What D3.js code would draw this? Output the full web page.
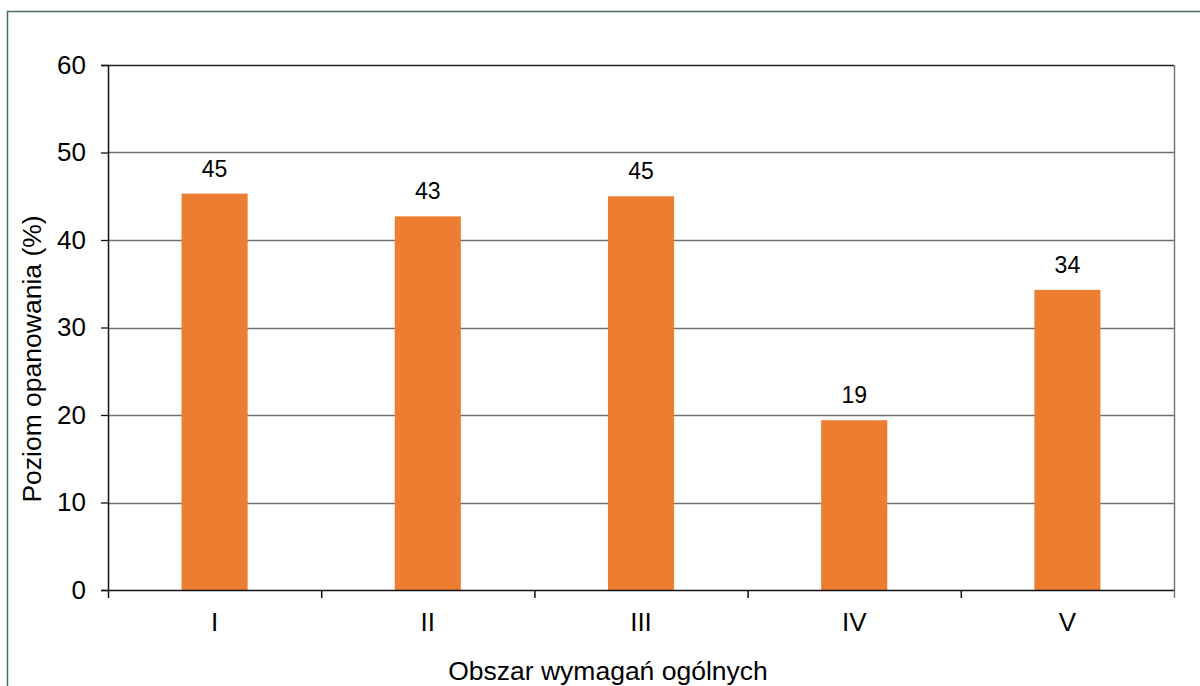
<!DOCTYPE html>
<html>
<head>
<meta charset="utf-8">
<script src="https://cdn.jsdelivr.net/npm/d3@7"></script>
<style>
  body { margin: 0; background: #fff; }
  svg { display: block; font-family: "Liberation Sans", Arial, sans-serif; }
</style>
</head>
<body>
<div id="chart"></div>
<script>
// Chart data
const categories = ["I", "II", "III", "IV", "V"];
const values = [45.3, 42.7, 45.0, 19.4, 34.3];
const labels = ["45", "43", "45", "19", "34"];
const yTicks = [0, 10, 20, 30, 40, 50, 60];

const width = 1200;
const height = 686;
const margin = { top: 65, right: 26, bottom: 96, left: 108 };
const plotW = width - margin.left - margin.right;
const plotH = height - margin.top - margin.bottom;

const svg = d3.select("#chart")
  .append("svg")
  .attr("width", width)
  .attr("height", height);

// outer frame
svg.append("path")
  .attr("d", `M7.5,${height} V11.5 H${width}`)
  .attr("fill", "none")
  .attr("stroke", "#4a6b5f")
  .attr("stroke-width", 1.5);

const g = svg.append("g")
  .attr("transform", `translate(${margin.left},${margin.top})`);

const x = d3.scaleBand()
  .domain(categories)
  .range([0, plotW])
  .paddingInner(0.69)
  .paddingOuter(0.345);

const xb = d3.scaleBand().domain(categories).range([0, plotW]);

const y = d3.scaleLinear()
  .domain([0, 60])
  .range([plotH, 0]);

// gridlines
g.selectAll(".grid")
  .data(yTicks.filter(d => d > 0))
  .join("line")
  .attr("class", "grid")
  .attr("x1", 0)
  .attr("x2", plotW)
  .attr("y1", d => Math.round(y(d)) + 0.5)
  .attr("y2", d => Math.round(y(d)) + 0.5)
  .attr("stroke", d => d === 60 ? "#222" : "#6f6f6f")
  .attr("stroke-width", 1.3);

// right border
g.append("line")
  .attr("x1", plotW + 0.5).attr("x2", plotW + 0.5)
  .attr("y1", 0).attr("y2", plotH)
  .attr("stroke", "#777")
  .attr("stroke-width", 1.5);

// bars
g.selectAll(".bar")
  .data(values)
  .join("rect")
  .attr("class", "bar")
  .attr("x", (d, i) => x(categories[i]))
  .attr("y", d => y(d))
  .attr("width", x.bandwidth())
  .attr("height", d => plotH - y(d))
  .attr("fill", "#ED7D31");

// data labels
g.selectAll(".lbl")
  .data(values)
  .join("text")
  .attr("class", "lbl")
  .attr("x", (d, i) => x(categories[i]) + x.bandwidth() / 2)
  .attr("y", d => y(d) - 17)
  .attr("text-anchor", "middle")
  .attr("font-size", 23)
  .attr("fill", "#000")
  .text((d, i) => labels[i]);

// y axis
const yAxis = g.append("g")
  .call(d3.axisLeft(y).tickValues(yTicks).tickSize(7).tickPadding(15));
yAxis.select(".domain").attr("stroke", "#111").attr("stroke-width", 1.5);
yAxis.selectAll(".tick line").attr("stroke", "#111").attr("stroke-width", 1.3);
yAxis.selectAll(".tick text")
  .attr("font-size", 26)
  .attr("font-family", "Liberation Sans, Arial, sans-serif")
  .attr("fill", "#000");

// x axis
const xAxis = g.append("g")
  .attr("transform", `translate(0,${plotH})`)
  .call(d3.axisBottom(xb).tickSize(0).tickPadding(23));
xAxis.select(".domain").attr("stroke", "#111").attr("stroke-width", 1.5);
xAxis.selectAll(".tick text")
  .attr("font-size", 26)
  .attr("font-family", "Liberation Sans, Arial, sans-serif")
  .attr("fill", "#000");

// boundary ticks between categories
const bounds = d3.range(categories.length + 1).map(i => i * xb.step());
g.selectAll(".xtick")
  .data(bounds)
  .join("line")
  .attr("class", "xtick")
  .attr("x1", d => d + 0.5)
  .attr("x2", d => d + 0.5)
  .attr("y1", plotH)
  .attr("y2", plotH + 8)
  .attr("stroke", d => d === plotW ? "#777" : "#111")
  .attr("stroke-width", 1.5);

// axis titles
svg.append("text")
  .attr("x", 608)
  .attr("y", 680)
  .attr("text-anchor", "middle")
  .attr("font-size", 26.5)
  .text("Obszar wymagań ogólnych");

svg.append("text")
  .attr("transform", "translate(41,359) rotate(-90)")
  .attr("text-anchor", "middle")
  .attr("font-size", 26.5)
  .text("Poziom opanowania (%)");
</script>
</body>
</html>
